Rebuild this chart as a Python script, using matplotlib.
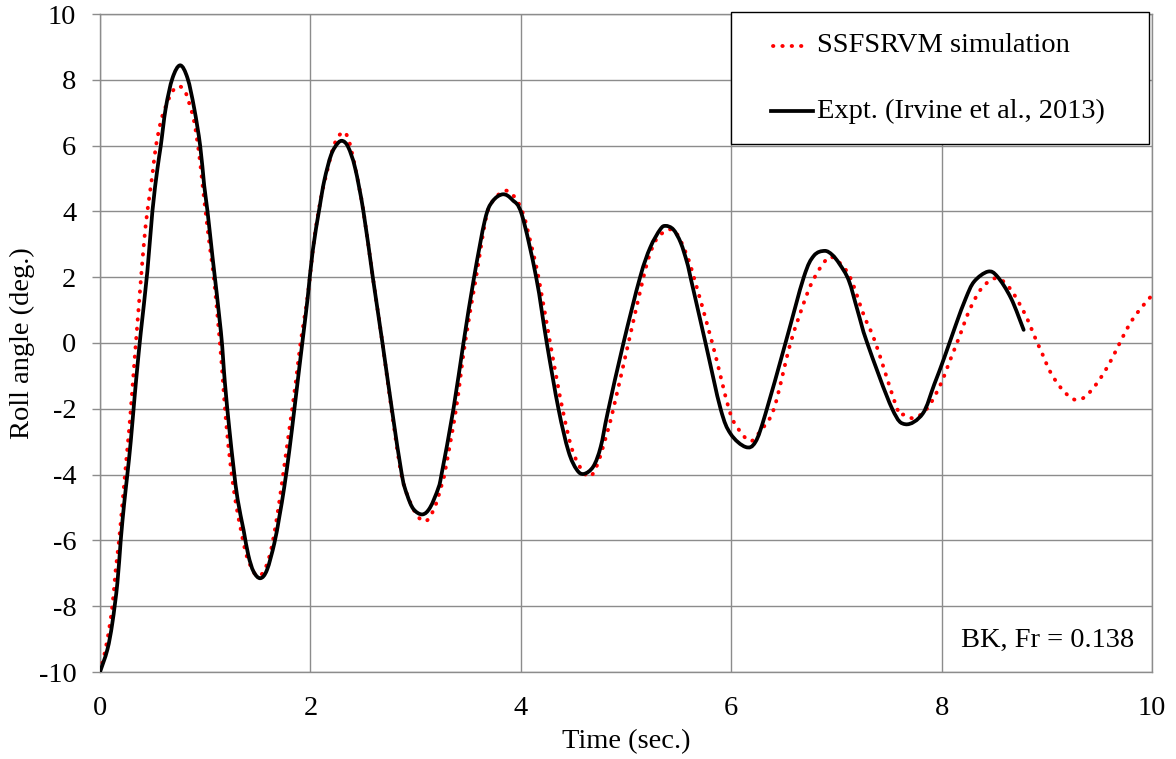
import matplotlib
matplotlib.use("Agg")
import matplotlib.pyplot as plt
import numpy as np
from matplotlib.path import Path
from matplotlib.patches import PathPatch, Rectangle
from matplotlib.lines import Line2D

# Simulated roll decay (SSFSRVM)
sim_time = [0.00, 0.022, 0.07, 0.117, 0.149, 0.181, 0.213, 0.244, 0.276, 0.298,
            0.324, 0.35, 0.387, 0.419, 0.45, 0.498, 0.53, 0.578, 0.625, 0.68,
            0.737, 0.80, 0.848, 0.895, 0.943, 0.975, 1.022, 1.054, 1.086, 1.133,
            1.165, 1.197, 1.244, 1.292, 1.34, 1.387, 1.435, 1.482, 1.53, 1.578,
            1.625, 1.673, 1.72, 1.768, 1.816, 1.863, 1.905, 1.975, 2.038, 2.10,
            2.165, 2.229, 2.308, 2.36, 2.425, 2.504, 2.593, 2.685, 2.77, 2.865,
            2.95, 3.037, 3.11, 3.186, 3.249, 3.28, 3.385, 3.47, 3.575, 3.677,
            3.77, 3.867, 3.96, 4.03, 4.09, 4.168, 4.279, 4.396, 4.50, 4.634,
            4.72, 4.816, 4.88, 5.023, 5.166, 5.233, 5.30, 5.41, 5.487, 5.58,
            5.645, 5.82, 5.978, 6.057, 6.18, 6.28, 6.406, 6.564, 6.72, 6.786,
            6.85, 6.944, 7.07, 7.15, 7.26, 7.372, 7.578, 7.64, 7.743, 7.867,
            7.99, 8.08, 8.17, 8.257, 8.37, 8.49, 8.58, 8.68, 8.80, 8.897,
            8.97, 9.03, 9.12, 9.23, 9.31, 9.38, 9.48, 9.57, 9.65, 9.72,
            9.80, 9.895, 10.0]
sim_roll = [-10.0, -9.73, -9.02, -8.01, -6.9, -6.0, -4.88, -3.77, -2.66, -1.8,
            -0.7, 0.37, 1.86, 3.08, 4.0, 5.11, 5.95, 6.73, 7.19, 7.6,
            7.8, 7.7, 7.29, 6.73, 5.72, 4.8, 3.49, 2.68, 1.86, 0.25,
            -1.0, -2.35, -3.8, -4.88, -5.69, -6.39, -6.8, -7.05, -7.05, -6.8,
            -6.3, -5.48, -4.47, -3.36, -2.25, -1.14, -0.03, 1.46, 3.2, 4.4,
            5.3, 6.05, 6.41, 6.2, 5.35, 4.0, 2.0, 0.0, -2.0, -4.0,
            -4.85, -5.33, -5.39, -4.96, -4.3, -3.9, -2.0, 0.0, 2.0, 3.9,
            4.45, 4.63, 4.35, 3.85, 3.1, 2.0, 0.0, -2.0, -3.35, -4.05,
            -3.75, -2.78, -2.0, 0.0, 2.0, 2.75, 3.2, 3.45, 3.30, 2.65,
            2.0, 0.0, -2.0, -2.56, -2.98, -2.66, -2.0, 0.0, 1.48, 1.95,
            2.3, 2.62, 2.3, 1.85, 0.85, 0.0, -2.0, -2.18, -2.28, -1.97,
            -1.26, -0.53, 0.20, 0.94, 1.62, 1.95, 1.89, 1.52, 0.83, 0.10,
            -0.42, -0.86, -1.31, -1.67, -1.72, -1.59, -1.21, -0.76, -0.28, 0.17,
            0.64, 1.06, 1.45]

# Measured roll decay (Irvine et al., 2013)
exp_time = [0.00, 0.07, 0.117, 0.165, 0.197, 0.229, 0.26, 0.292, 0.33, 0.356,
            0.387, 0.45, 0.498, 0.546, 0.578, 0.625, 0.689, 0.762, 0.832, 0.895,
            0.952, 0.99, 1.022, 1.07, 1.149, 1.187, 1.229, 1.27, 1.308,
            1.365, 1.41, 1.46, 1.524, 1.587, 1.657, 1.705, 1.752, 1.80, 1.848,
            1.895, 1.937, 1.975, 2.022, 2.086, 2.133, 2.197, 2.26, 2.308, 2.36,
            2.425, 2.504, 2.593, 2.685, 2.774, 2.869, 2.92, 2.98, 3.065, 3.138,
            3.217, 3.249, 3.36, 3.455, 3.556, 3.66, 3.73, 3.83, 3.92,
            4.01, 4.146, 4.247, 4.358, 4.453, 4.532, 4.60, 4.69, 4.76,
            4.827, 4.976, 5.134, 5.23, 5.325, 5.376, 5.45, 5.52, 5.58, 5.613,
            5.756, 5.899, 5.994, 6.136, 6.23, 6.326, 6.516, 6.69, 6.785, 6.887,
            6.96, 7.03, 7.118, 7.20, 7.293, 7.53, 7.657, 7.82, 7.93, 8.025,
            8.136, 8.23, 8.31, 8.44, 8.53, 8.66, 8.78]
exp_roll = [-10.0, -9.32, -8.52, -7.3, -6.0, -4.9, -4.0, -3.0, -1.6, -0.7,
            0.3, 2.17, 4.0, 5.3, 6.0, 7.14, 8.05, 8.44, 8.05, 7.14,
            6.0, 4.8, 4.0, 2.6, 0.35, -1.2, -2.6, -3.8, -4.75,
            -5.69, -6.45, -6.95, -7.15, -6.9, -6.09, -5.28, -4.37, -3.26, -2.0,
            -0.74, 0.37, 1.4, 2.8, 4.1, 4.95, 5.72, 6.07, 6.14, 5.95,
            5.32, 4.0, 2.0, 0.0, -2.0, -4.0, -4.62, -5.05, -5.21, -5.0,
            -4.4, -3.95, -2.0, 0.0, 2.0, 3.75, 4.3, 4.52, 4.35,
            3.9, 2.0, 0.0, -2.0, -3.29, -3.85, -3.98, -3.75, -3.15,
            -2.1, 0.0, 2.0, 2.9, 3.45, 3.56, 3.45, 3.05, 2.45, 2.0,
            0.0, -2.0, -2.76, -3.16, -3.01, -2.15, 0.0, 2.0, 2.65, 2.80,
            2.68, 2.4, 1.9, 1.0, 0.0, -2.0, -2.47, -2.15, -1.26, -0.45,
            0.56, 1.36, 1.87, 2.17, 2.02, 1.36, 0.40]

x_ticks = [0, 2, 4, 6, 8, 10]
y_ticks = [-10, -8, -6, -4, -2, 0, 2, 4, 6, 8, 10]

sim_label = "SSFSRVM simulation"
exp_label = "Expt. (Irvine et al., 2013)"
case_label = "BK, Fr = 0.138"

plt.rcParams["font.family"] = ["Liberation Serif", "DejaVu Serif"]
plt.rcParams["axes.unicode_minus"] = False

FS = 20.5
GRID = "#8c8c8c"


def smooth_path(x, y):
    """Catmull-Rom style smoothed path (cubic Bezier segments) through the points."""
    p = np.column_stack([x, y]).astype(float)
    n = len(p)
    verts = [p[0]]
    codes = [Path.MOVETO]
    for i in range(n - 1):
        p0 = p[i - 1] if i > 0 else p[i]
        p1 = p[i]
        p2 = p[i + 1]
        p3 = p[i + 2] if i + 2 < n else p[i + 1]
        c1 = p1 + (p2 - p0) / 6.0
        c2 = p2 - (p3 - p1) / 6.0
        verts.extend([c1, c2, p2])
        codes.extend([Path.CURVE4] * 3)
    return Path(verts, codes)


fig = plt.figure(figsize=(11.76, 7.59), dpi=100)
ax = fig.add_axes([100 / 1176, 87 / 759, 1052 / 1176, 658 / 759])

sim_style = dict(color="#ff0000", linewidth=2.8, linestyle=(0, (0.1, 2.3)))
exp_style = dict(color="black", linewidth=2.7, linestyle="-")

ax.add_patch(PathPatch(smooth_path(sim_time, sim_roll), fill=False,
                       edgecolor=sim_style["color"], linewidth=sim_style["linewidth"],
                       linestyle=sim_style["linestyle"], capstyle="round",
                       joinstyle="round", zorder=3))
ax.add_patch(PathPatch(smooth_path(exp_time, exp_roll), fill=False,
                       edgecolor=exp_style["color"], linewidth=exp_style["linewidth"],
                       capstyle="round", joinstyle="round", zorder=4))

ax.set_xlim(0, 10)
ax.set_ylim(-10, 10)
ax.set_xticks(x_ticks)
ax.set_yticks(y_ticks)
ax.set_xticklabels([str(v) for v in x_ticks])
ax.set_yticklabels([str(v) for v in y_ticks])
ax.grid(True, color=GRID, linewidth=1.0)
ax.set_axisbelow(True)
for sp in ax.spines.values():
    sp.set_color(GRID)
    sp.set_linewidth(1.0)

ax.tick_params(axis="x", length=0, pad=17, labelsize=FS, colors="black")
ax.tick_params(axis="y", length=6, width=1.0, color=GRID, pad=11,
               labelsize=FS, labelcolor="black", direction="out")

ax.set_xlabel("Time (sec.)", fontsize=FS, va="center")
ax.xaxis.set_label_coords(0.5, -70 / 658)
ax.set_ylabel("Roll angle (deg.)", fontsize=FS, va="center")
ax.yaxis.set_label_coords(-78 / 1052, 0.5)

# case annotation in the lower-right cell
ax.text(9.01, -9.03, case_label, fontsize=FS, ha="center", va="center", zorder=5)


# legend box
def ax_x(px):
    return (px - 100) / 1052


def ax_y(py):
    return (672 - py) / 658


ax.add_patch(Rectangle((ax_x(731), ax_y(144)), ax_x(1149) - ax_x(731),
                       ax_y(12) - ax_y(144), transform=ax.transAxes,
                       facecolor="white", edgecolor="black", linewidth=1.0,
                       zorder=6, clip_on=False))
ax.add_line(Line2D([ax_x(773), ax_x(810)], [ax_y(46), ax_y(46)],
                   transform=ax.transAxes, dash_capstyle="round",
                   zorder=7, clip_on=False, **sim_style))
ax.add_line(Line2D([ax_x(771), ax_x(813)], [ax_y(111), ax_y(111)],
                   transform=ax.transAxes, zorder=7, clip_on=False, **exp_style))
ax.text(ax_x(817), ax_y(46), sim_label, transform=ax.transAxes, fontsize=FS,
        ha="left", va="center", zorder=8)
ax.text(ax_x(817), ax_y(111), exp_label, transform=ax.transAxes, fontsize=FS,
        ha="left", va="center", zorder=8)

fig.savefig("out.png", dpi=100)
